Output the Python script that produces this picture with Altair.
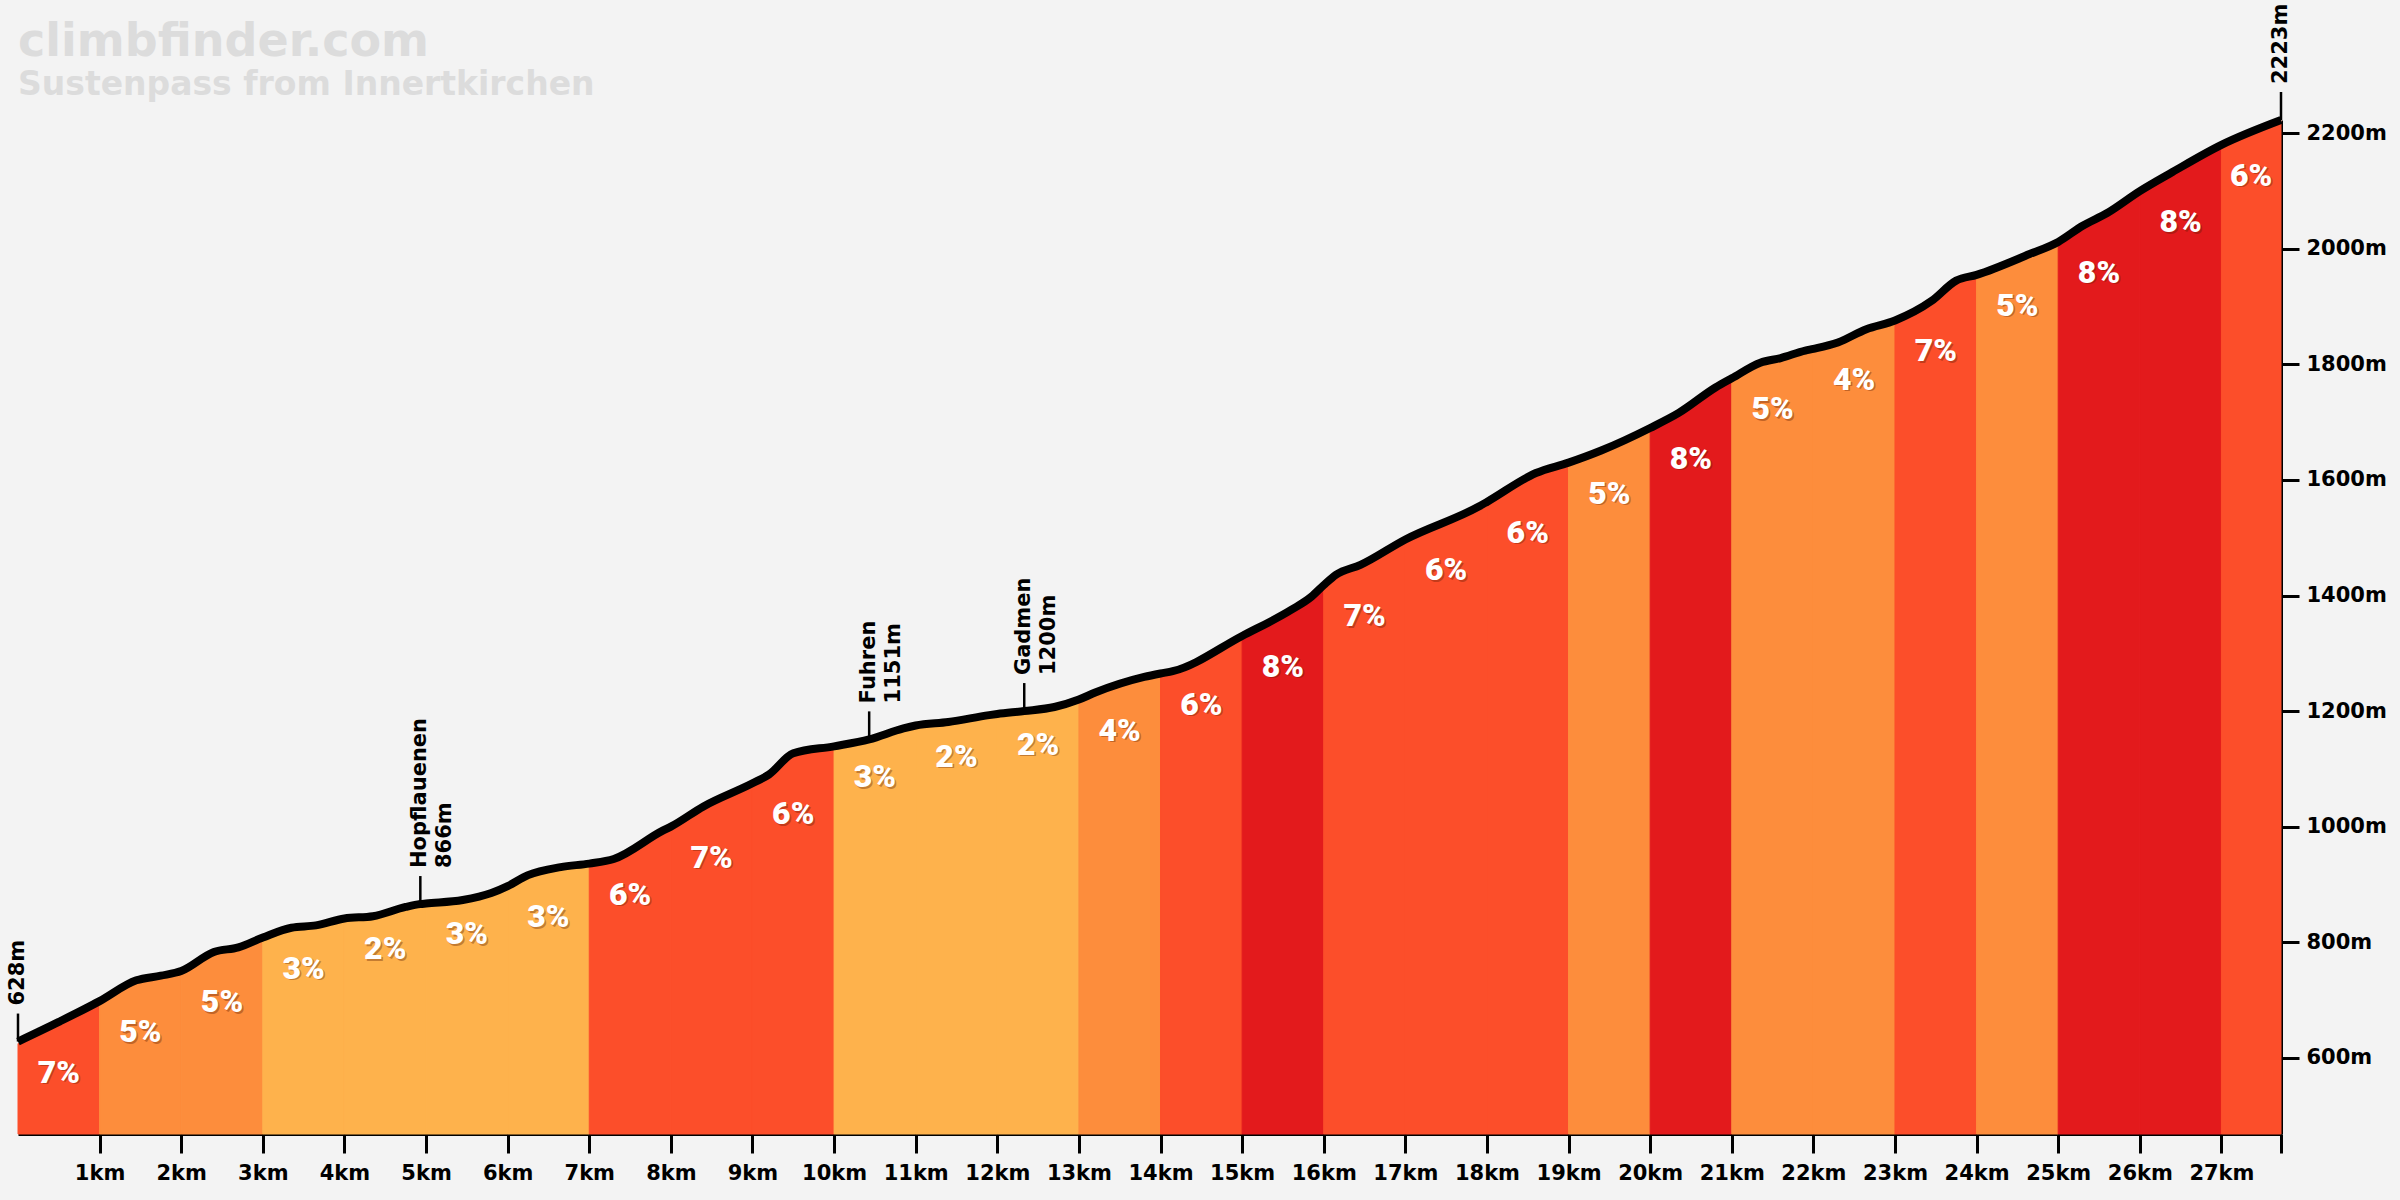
import altair as alt
import pandas as pd

# Elevation profile of the climb (distance in km, elevation in m)
profile_km = [
    0.0, 0.5, 1.0, 1.45, 1.75, 2.0, 2.4, 2.7, 3.0, 3.35, 3.65, 4.0, 4.35, 4.75,
    4.93, 5.0, 5.45, 5.8, 6.0, 6.25, 6.65, 7.0, 7.3, 7.9, 8.0, 8.4, 9.0, 9.2,
    9.5, 10.0, 10.43, 10.85, 11.0, 11.4, 11.9, 12.0, 12.33, 12.7, 13.0, 13.2,
    13.8, 14.0, 14.15, 15.0, 15.6, 15.85, 16.0, 16.15, 16.45, 17.0, 17.9, 18.0,
    18.6, 19.0, 19.4, 20.0, 20.35, 20.8, 21.0, 21.35, 21.6, 21.9, 22.0, 22.3,
    22.65, 23.0, 23.45, 23.75, 24.0, 24.65, 25.0, 25.3, 25.6, 26.0, 26.4, 27.0,
    27.73,
]
profile_elev = [
    628, 662, 698, 734, 742, 750, 783, 791, 808, 825, 829, 841, 845, 861,
    866, 867, 873, 885, 897, 916, 930, 936, 944, 993, 1000, 1035, 1075, 1090,
    1127, 1139, 1151, 1170, 1175, 1181, 1193, 1195, 1200, 1207, 1220, 1232,
    1259, 1265, 1269, 1330, 1375, 1398, 1418, 1436, 1453, 1497, 1554, 1562,
    1612, 1630, 1651, 1690, 1716, 1760, 1776, 1803, 1811, 1824, 1827, 1838,
    1861, 1876, 1910, 1945, 1955, 1991, 2012, 2040, 2062, 2100, 2133, 2180,
    2223,
]

# Average gradient (%) of each kilometre
band_grade = [7, 5, 5, 3, 2, 3, 3, 6, 7, 6, 3, 2, 2, 4, 6, 8, 7, 6, 6, 5,
              8, 5, 4, 7, 5, 8, 8, 6]
total_km = 27.73

# Named points along the road
place_km = [4.93, 10.43, 12.33]
place_elev = [866, 1151, 1200]
place_name = ["Hopflauenen", "Fuhren", "Gadmen"]

title_text = "climbfinder.com"
subtitle_text = "Sustenpass from Innertkirchen"

grade_domain = [2, 3, 4, 5, 6, 7, 8]
grade_range = ["#feb24c", "#feb24c", "#fd8d3c", "#fd8d3c",
               "#fc4e2a", "#fc4e2a", "#e31a1c"]

Y_MIN, Y_MAX = 468, 2223
PLOT_W, PLOT_H = 2263, 1014
BG = "#f3f3f3"
FONT = "DejaVu Sans"
m_per_px = (Y_MAX - Y_MIN) / PLOT_H

profile = pd.DataFrame({"km": profile_km, "elev": profile_elev})
elev_at = dict(zip(profile_km, profile_elev))

band_start = list(range(len(band_grade)))
band_end = band_start[1:] + [total_km]
bands = pd.DataFrame({
    "start": band_start,
    "end": band_end,
    "grade": band_grade,
    "base": [elev_at[float(s)] for s in band_start],
})
bands["mid"] = (bands["start"] + bands["end"]) / 2
bands["label"] = bands["grade"].astype(str) + "%"

x_scale = alt.Scale(domain=[0, total_km], nice=False, zero=False)
y_scale = alt.Scale(domain=[Y_MIN, Y_MAX], nice=False, zero=False)

x_axis = alt.Axis(
    values=list(range(1, 28)) + [total_km],
    labelExpr="datum.value % 1 == 0 ? datum.value + 'km' : ''",
    grid=False, title=None, tickSize=19, tickWidth=3, tickColor="black",
    domainColor="black", domainWidth=3, labelFont=FONT, labelFontSize=21,
    labelFontWeight="bold", labelColor="black", labelPadding=9,
    labelFlush=False, labelOverlap=False,
)
y_axis = alt.Axis(
    orient="right", values=list(range(600, 2201, 200)),
    labelExpr="datum.value + 'm'", grid=False, title=None, tickSize=18,
    tickWidth=3, tickColor="black", domainColor="black", domainWidth=3,
    labelFont=FONT, labelFontSize=21, labelFontWeight="bold",
    labelColor="black", labelPadding=7,
)


def X(field):
    return alt.X(field, scale=x_scale, axis=x_axis)


def Y(field):
    return alt.Y(field, scale=y_scale, axis=y_axis)


grade_scale = alt.Scale(domain=grade_domain, range=grade_range)

# Coloured kilometre bands, full height (stroked in their own colour so
# neighbouring bands of the same colour join without a seam)
band_fill = alt.Chart(bands).mark_rect(strokeWidth=1).encode(
    x=X("start:Q"),
    x2="end:Q",
    y=alt.value(0),
    y2=alt.value(PLOT_H),
    color=alt.Color("grade:O", scale=grade_scale, legend=None),
    stroke=alt.Stroke("grade:O", scale=grade_scale, legend=None),
)

# Background above the profile hides the upper part of the bands
mask = alt.Chart(profile).mark_area(
    color=BG, stroke=BG, strokeWidth=3, interpolate="monotone"
).encode(
    x=X("km:Q"),
    y=Y("elev:Q"),
    y2=alt.datum(Y_MAX),
)

line = alt.Chart(profile).mark_line(color="black", strokeWidth=8, interpolate="monotone").encode(
    x=X("km:Q"),
    y=Y("elev:Q"),
)

grade_shadow = alt.Chart(bands).mark_text(
    font="Roboto", fontSize=32, fontWeight=900, color="#5a1a00", opacity=0.35,
    baseline="middle", align="center", dx=1.5, dy=32.5,
).encode(
    x=X("mid:Q"),
    y=Y("base:Q"),
    text="label:N",
)
grade_text = alt.Chart(bands).mark_text(
    font="Roboto", fontSize=32, fontWeight=900, color="white",
    baseline="middle", align="center", dy=31,
).encode(
    x=X("mid:Q"),
    y=Y("base:Q"),
    text="label:N",
)

# Markers: start, named places, summit
marks = pd.DataFrame({
    "km": [0.0] + place_km + [total_km],
    "elev": [profile_elev[0]] + place_elev + [profile_elev[-1]],
    "name": [""] + place_name + [""],
})
marks["top"] = marks["elev"] + 28 * m_per_px
marks["elev_label"] = marks["elev"].astype(str) + "m"

rules = alt.Chart(marks).mark_rule(color="black", strokeWidth=2.5).encode(
    x=X("km:Q"),
    y=Y("elev:Q"),
    y2="top:Q",
)

text_style = dict(font=FONT, fontSize=21, fontWeight="bold", color="black",
                  angle=270, align="left", baseline="middle", dx=36)

named = marks[marks["name"] != ""]
plain = marks[marks["name"] == ""]

name_text = alt.Chart(named).mark_text(**text_style).encode(
    x=X("km:Q"), y=Y("elev:Q"), text="name:N",
)
name_elev_text = alt.Chart(named).mark_text(**text_style, dy=25).encode(
    x=X("km:Q"), y=Y("elev:Q"), text="elev_label:N",
)
end_text = alt.Chart(plain).mark_text(**text_style).encode(
    x=X("km:Q"), y=Y("elev:Q"), text="elev_label:N",
)

titles = pd.DataFrame({"t": [title_text, subtitle_text], "size": [46, 33], "ypos": [-64, -25]})
title_layer = alt.Chart(titles).mark_text(
    font=FONT, fontWeight="bold", color="#dcdcdc", align="left", baseline="alphabetic",
).encode(
    x=alt.value(0),
    y=alt.Y("ypos:Q", scale=None, axis=None),
    size=alt.Size("size:Q", scale=None, legend=None),
    text="t:N",
)

chart = alt.layer(
    band_fill, mask, line, grade_shadow, grade_text,
    rules, name_text, name_elev_text, end_text, title_layer,
).properties(
    width=PLOT_W, height=PLOT_H,
    padding={"left": 18, "top": 120, "right": 119, "bottom": 66},
    autosize=alt.AutoSizeParams(type="none"),
    background=BG,
).configure_view(stroke=None)

chart.save("out.html", embed_options={"renderer": "svg", "actions": False})
